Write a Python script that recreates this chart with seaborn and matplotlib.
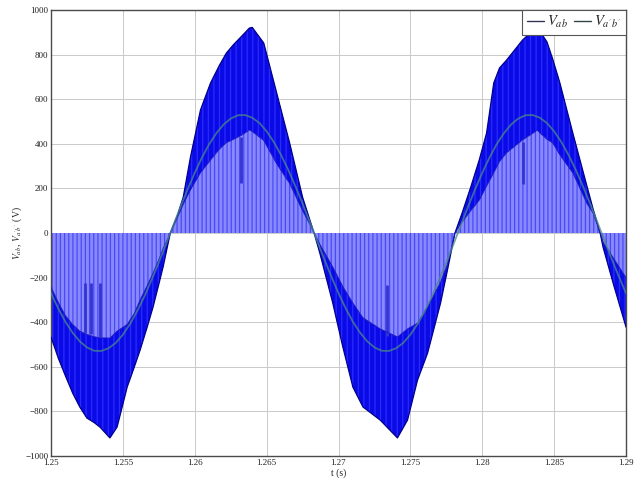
import numpy as np
import pandas as pd
import matplotlib
matplotlib.use("Agg")
import matplotlib.pyplot as plt
from matplotlib.lines import Line2D
import seaborn as sns

# envelope of the PWM line voltage V_ab (outer level and inner level)
env_t = [1.2500, 1.2505, 1.2510, 1.2515, 1.2520, 1.2525, 1.2530, 1.2534, 1.2541, 1.2546,
         1.2553, 1.2558, 1.2562, 1.2567, 1.2571, 1.2575, 1.2578, 1.2583,
         1.2588, 1.2592, 1.2597, 1.2604, 1.2611, 1.2617, 1.2622, 1.2627, 1.2633, 1.2638,
         1.2640, 1.2648, 1.2657, 1.2666, 1.2675, 1.2680, 1.2683,
         1.2687, 1.2696, 1.2703, 1.2710, 1.2717, 1.2729, 1.2741, 1.2748, 1.2755, 1.2762,
         1.2771, 1.2776, 1.2781,
         1.2786, 1.2792, 1.2798, 1.2803, 1.2808, 1.2812, 1.2817, 1.2828, 1.2837, 1.2838,
         1.2845, 1.2849, 1.2854, 1.2863, 1.2873, 1.2877, 1.2882,
         1.2884, 1.2891, 1.2900]
env_outer = [-466, -560, -640, -717, -780, -830, -850, -870, -919, -870,
             -691, -600, -525, -420, -332, -230, -152, 0,
             80, 161, 340, 552, 673, 750, 807, 845, 885, 919,
             922, 852, 628, 404, 161, 60, 0,
             -90, -314, -511, -691, -780, -839, -919, -839, -659, -538,
             -314, -160, 0,
             90, 206, 330, 448, 673, 740, 776, 865, 919, 925,
             857, 780, 673, 448, 206, 110, 0,
             -63, -224, -422]
env_inner = [-242, -310, -370, -410, -440, -455, -465, -470, -471, -440,
             -410, -360, -300, -235, -180, -120, -70, 0,
             70, 128, 193, 270, 327, 375, 405, 420, 440, 462,
             455, 415, 310, 222, 100, 40, 0,
             -50, -152, -240, -314, -380, -430, -466, -430, -404, -330,
             -220, -135, 0,
             50, 100, 148, 210, 270, 320, 360, 417, 455, 462,
             420, 404, 350, 269, 130, 90, 0,
             -40, -110, -200]

# odd pulses that stand out inside the light band
spike_t = [1.2524, 1.2528, 1.2534, 1.2632, 1.2734, 1.2828]
spike_lo = [-224, -224, -224, 224, -233, 220]
spike_hi = [-450, -455, -465, 430, -460, 410]

# fundamental V_a'b' (green)
green_t = [1.2500, 1.2505, 1.2510, 1.2515, 1.2520, 1.2525, 1.2530, 1.2535, 1.2540, 1.2545,
           1.2550, 1.2555, 1.2560, 1.2565, 1.2570, 1.2575, 1.2580, 1.2585, 1.2590, 1.2595,
           1.2600, 1.2605, 1.2610, 1.2615, 1.2620, 1.2625, 1.2630, 1.2635, 1.2640, 1.2645,
           1.2650, 1.2655, 1.2660, 1.2665, 1.2670, 1.2675, 1.2680, 1.2685, 1.2690, 1.2695,
           1.2700, 1.2705, 1.2710, 1.2715, 1.2720, 1.2725, 1.2730, 1.2735, 1.2740, 1.2745,
           1.2750, 1.2755, 1.2760, 1.2765, 1.2770, 1.2775, 1.2780, 1.2785, 1.2790, 1.2795,
           1.2800, 1.2805, 1.2810, 1.2815, 1.2820, 1.2825, 1.2830, 1.2835, 1.2840, 1.2845,
           1.2850, 1.2855, 1.2860, 1.2865, 1.2870, 1.2875, 1.2880, 1.2885, 1.2890, 1.2895,
           1.2900]
green_v = [-270, -338, -398, -447, -486, -513, -528, -529, -517, -493,
           -456, -408, -350, -284, -210, -132, -50, 33, 116, 195,
           270, 338, 398, 447, 486, 513, 528, 529, 517, 493,
           456, 408, 350, 284, 210, 132, 50, -33, -116, -195,
           -270, -338, -398, -447, -486, -513, -528, -529, -517, -493,
           -456, -408, -350, -284, -210, -132, -50, 33, 116, 195,
           270, 338, 398, 447, 486, 513, 528, 529, 517, 493,
           456, 408, 350, 284, 210, 132, 50, -33, -116, -195,
           -270]

x_ticks = [1.25, 1.255, 1.26, 1.265, 1.27, 1.275, 1.28, 1.285, 1.29]
x_tick_labels = ["1.25", "1.255", "1.26", "1.265", "1.27", "1.275", "1.28", "1.285", "1.29"]
y_ticks = [-1000, -800, -600, -400, -200, 0, 200, 400, 600, 800, 1000]

sns.set_style("whitegrid", {"grid.color": "#c9c9c9", "axes.edgecolor": "#4a4a4a"})
plt.rcParams["font.family"] = ["Liberation Serif", "DejaVu Serif"]
plt.rcParams["mathtext.fontset"] = "stix"
plt.rcParams["hatch.linewidth"] = 0.9

env = pd.DataFrame({"t": env_t, "outer": env_outer, "inner": env_inner})
green = pd.DataFrame({"t": green_t, "v": green_v})

fig = plt.figure(figsize=(6.43, 4.83), dpi=100)
ax = fig.add_axes([0.0793, 0.0559, 0.8943, 0.9234])

# light band: zero up to the inner level
ax.fill_between(env["t"], 0, env["inner"], facecolor="#8888ff", edgecolor="#4a4af5",
                hatch="||||", linewidth=0, zorder=2)
# dark band: inner level up to the outer level
ax.fill_between(env["t"], env["inner"], env["outer"], facecolor="#0a0ae6", edgecolor="#2a2aff",
                hatch="|||", linewidth=0, zorder=2)
ax.vlines(spike_t, spike_lo, spike_hi, colors="#3434d0", linewidth=2.0, zorder=3)

sns.lineplot(data=env, x="t", y="outer", ax=ax, color="#00008c", linewidth=0.9,
             errorbar=None, zorder=4)
sns.lineplot(data=env, x="t", y="inner", ax=ax, color="#1a1ab8", linewidth=0.6,
             errorbar=None, zorder=4)
sns.lineplot(data=green, x="t", y="v", ax=ax, color="#4a8a86", linewidth=1.3,
             alpha=0.75, errorbar=None, zorder=5)

ax.set_xlim(1.25, 1.29)
ax.set_ylim(-1000, 1000)
ax.set_xticks(x_ticks)
ax.set_xticklabels(x_tick_labels)
ax.set_yticks(y_ticks)
ax.tick_params(labelsize=6.5, direction="in", length=2, pad=2, colors="#222222")
ax.grid(True, linewidth=0.7, zorder=0)
ax.set_axisbelow(True)
for s in ax.spines.values():
    s.set_linewidth(1.0)

ax.set_xlabel("t (s)", fontsize=7, labelpad=1)
ax.set_ylabel(r"$V_{ab}$, $V_{a'b'}$ (V)", fontsize=7, labelpad=1)

handles = [Line2D([], [], color="#333355", linewidth=1.0),
           Line2D([], [], color="#334444", linewidth=1.0)]
leg = ax.legend(handles, [r"$V_{ab}$", r"$V_{a'b'}$"], loc="upper right", ncol=2,
                fontsize=10.5, frameon=True, fancybox=False, borderpad=0.3,
                handlelength=1.2, handletextpad=0.2, columnspacing=0.4,
                borderaxespad=0.0, framealpha=1)
leg.get_frame().set_edgecolor("#555555")
leg.get_frame().set_linewidth(0.8)
leg.set_zorder(10)

fig.savefig("out.png", dpi=100)
